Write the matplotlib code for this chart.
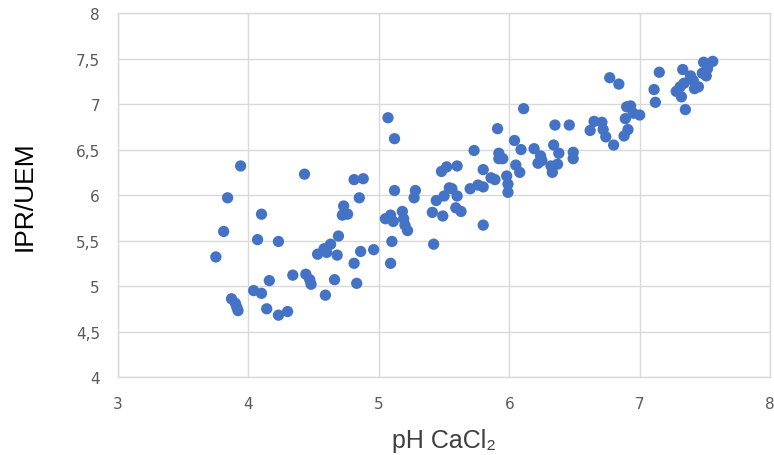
import numpy as np
import matplotlib
matplotlib.use("Agg")
import matplotlib.pyplot as plt

# pH CaCl2 vs IPR/UEM
ph = [3.75, 3.81, 3.84, 3.94, 3.87, 3.90, 3.91, 3.92, 4.04, 4.10, 4.14, 4.16, 4.07, 4.10, 4.23,
      4.23, 4.30, 4.34, 4.43, 4.44, 4.47, 4.48, 4.53, 4.58, 4.59, 4.60, 4.63, 4.66, 4.68, 4.69,
      4.72, 4.73, 4.76, 4.81, 4.81, 4.83, 4.85, 4.86, 4.88, 4.96, 5.05, 5.07, 5.09, 5.10, 5.09,
      5.11, 5.12, 5.12, 5.18, 5.19, 5.20, 5.22, 5.27, 5.28, 5.41, 5.42, 5.44, 5.48, 5.49, 5.50,
      5.52, 5.54, 5.56, 5.59, 5.60, 5.60, 5.63, 5.70, 5.73, 5.76, 5.80, 5.80, 5.80, 5.86, 5.89,
      5.91, 5.92, 5.92, 5.95, 5.98, 5.99, 5.99, 6.04, 6.05, 6.08, 6.09, 6.11, 6.19, 6.22, 6.24,
      6.25, 6.32, 6.33, 6.34, 6.35, 6.37, 6.38, 6.46, 6.49, 6.49, 6.62, 6.65, 6.71, 6.72, 6.74,
      6.77, 6.80, 6.84, 6.88, 6.89, 6.91, 6.90, 6.93, 6.95, 7.00, 7.11, 7.12, 7.15, 7.28, 7.32,
      7.31, 7.33, 7.35, 7.34, 7.39, 7.42, 7.45, 7.41, 7.48, 7.51, 7.49, 7.56, 7.52]
ipr = [5.32, 5.60, 5.97, 6.32, 4.86, 4.81, 4.77, 4.73, 4.95, 4.92, 4.75, 5.06, 5.51, 5.79, 5.49,
       4.68, 4.72, 5.12, 6.23, 5.13, 5.07, 5.02, 5.35, 5.41, 4.90, 5.37, 5.46, 5.07, 5.34, 5.55,
       5.78, 5.88, 5.79, 6.17, 5.25, 5.03, 5.97, 5.38, 6.18, 5.40, 5.74, 6.85, 5.78, 5.49, 5.25,
       5.71, 6.62, 6.05, 5.82, 5.74, 5.67, 5.61, 5.97, 6.05, 5.81, 5.46, 5.94, 6.26, 5.77, 5.99,
       6.31, 6.08, 6.07, 5.86, 5.99, 6.32, 5.82, 6.07, 6.49, 6.11, 6.28, 6.09, 5.67, 6.19, 6.17,
       6.73, 6.46, 6.40, 6.40, 6.21, 6.12, 6.03, 6.60, 6.33, 6.25, 6.50, 6.95, 6.51, 6.35, 6.43,
       6.38, 6.32, 6.25, 6.55, 6.77, 6.34, 6.46, 6.77, 6.47, 6.40, 6.71, 6.81, 6.80, 6.72, 6.64,
       7.29, 6.55, 7.22, 6.65, 6.84, 6.72, 6.97, 6.98, 6.90, 6.88, 7.16, 7.02, 7.35, 7.14, 7.08,
       7.19, 7.38, 6.94, 7.23, 7.31, 7.17, 7.19, 7.26, 7.34, 7.31, 7.46, 7.47, 7.39]

xticks = [3, 4, 5, 6, 7, 8]
yticks = [4, 4.5, 5, 5.5, 6, 6.5, 7, 7.5, 8]
ytick_labels = ["4", "4,5", "5", "5,5", "6", "6,5", "7", "7,5", "8"]

sans = ["Liberation Sans", "DejaVu Sans"]
grey = "#D9D9D9"

fig = plt.figure(figsize=(7.74, 4.56), dpi=100)
ax = fig.add_axes([0.1525, 0.171, 0.8425, 0.798])

ax.scatter(ph, ipr, s=66, color="#4472C4", edgecolors="none", zorder=3)

ax.set_xlim(3, 8)
ax.set_ylim(4, 8)
ax.set_xticks(xticks)
ax.set_xticklabels([str(t) for t in xticks], fontsize=11, color="#595959")
ax.set_yticks(yticks)
ax.set_yticklabels(ytick_labels, fontsize=11, color="#595959")
ax.tick_params(length=0)
ax.tick_params(axis="x", pad=14)
ax.tick_params(axis="y", pad=13)
ax.grid(True, color=grey, linewidth=1)
ax.set_axisbelow(True)
for s in ax.spines.values():
    s.set_color(grey)
    s.set_linewidth(1)

ax.set_xlabel("pH CaCl\u2082", family=sans, fontsize=18, color="#404040", va="center")
ax.xaxis.set_label_coords(0.5, -0.172)
ax.set_ylabel("IPR/UEM", family=sans, fontsize=19, color="#000000", va="center")
ax.yaxis.set_label_coords(-0.143, 0.5)

fig.savefig("out.png", dpi=100)
